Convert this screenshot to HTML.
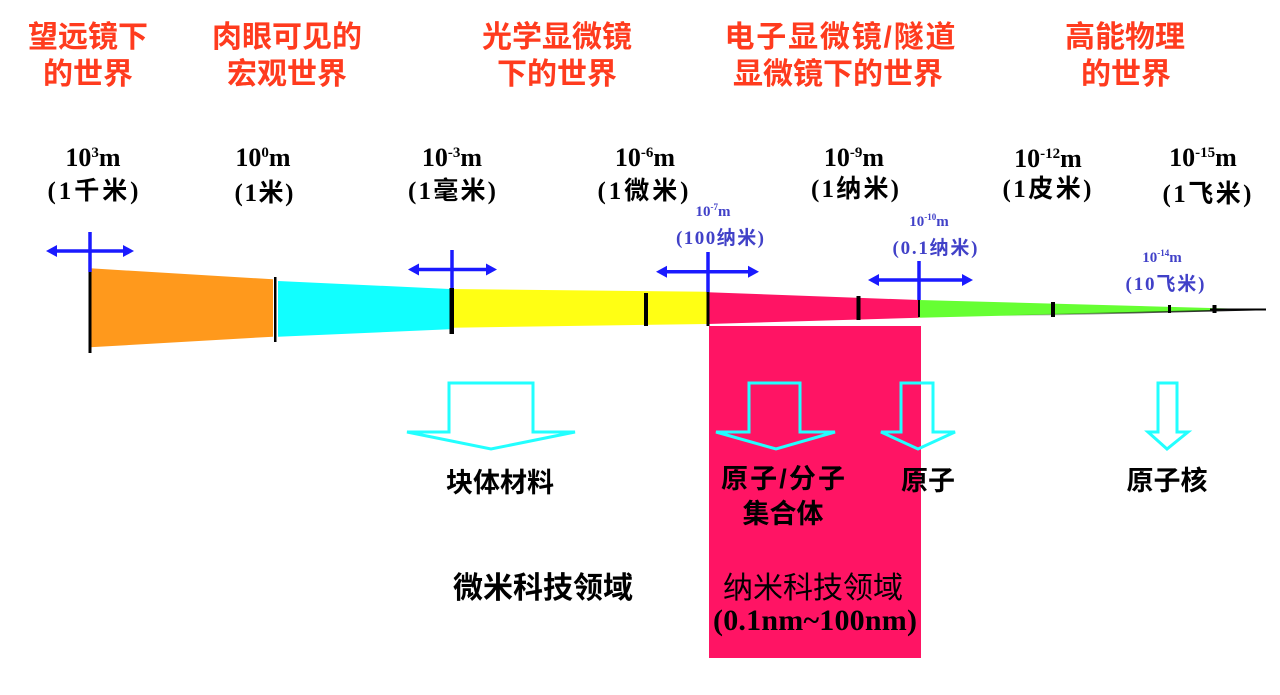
<!DOCTYPE html>
<html><head><meta charset="utf-8"><style>
html,body{margin:0;padding:0;background:#fff;}
svg{display:block;}
.r{font-family:"Liberation Sans","Noto Sans CJK SC",sans-serif;font-weight:700;font-size:30px;fill:#ff3b1e;text-anchor:middle;}
.k{font-family:"Liberation Serif","Noto Sans CJK SC",serif;font-weight:700;font-size:26px;fill:#000;text-anchor:middle;}
.k2{font-family:"Liberation Serif","Noto Sans CJK SC",serif;font-weight:700;font-size:25px;fill:#000;text-anchor:middle;}
.b{font-family:"Liberation Serif","Noto Sans CJK SC",serif;font-weight:700;font-size:19px;fill:#4141c8;text-anchor:middle;}
.bs{font-family:"Liberation Serif","Noto Sans CJK SC",serif;font-weight:700;font-size:15px;fill:#4141c8;text-anchor:middle;}
.c{font-family:"Liberation Sans","Noto Sans CJK SC",sans-serif;font-weight:700;font-size:27px;fill:#000;text-anchor:middle;}
.d{font-family:"Liberation Sans","Noto Sans CJK SC",sans-serif;font-weight:700;font-size:30px;fill:#000;text-anchor:middle;}
.dn{font-family:"Liberation Sans","Noto Sans CJK SC",sans-serif;font-weight:400;font-size:30px;fill:#000;text-anchor:middle;}
.ds{font-family:"Liberation Serif",serif;font-weight:700;font-size:30px;fill:#000;text-anchor:middle;}
.ar{fill:none;stroke:#22ffff;stroke-width:3;stroke-linejoin:miter;}
</style></head><body>
<svg width="1280" height="695" viewBox="0 0 1280 695" xmlns="http://www.w3.org/2000/svg">
<rect width="1280" height="695" fill="#fff"/>
<defs>
<linearGradient id="gl" x1="1000" y1="0" x2="1266" y2="0" gradientUnits="userSpaceOnUse">
<stop offset="0" stop-color="#000" stop-opacity="0"/>
<stop offset="0.5" stop-color="#000" stop-opacity="0.6"/>
<stop offset="1" stop-color="#000" stop-opacity="1"/>
</linearGradient>
</defs>

<!-- Red titles -->
<text class="r" x="88" y="47">望远镜下</text>
<text class="r" x="88" y="84">的世界</text>
<text class="r" x="287" y="47">肉眼可见的</text>
<text class="r" x="287" y="84">宏观世界</text>
<text class="r" x="557" y="47">光学显微镜</text>
<text class="r" x="557" y="84">下的世界</text>
<text class="r" x="840" y="47" textLength="231" lengthAdjust="spacing">电子显微镜/隧道</text>
<text class="r" x="838" y="84">显微镜下的世界</text>
<text class="r" x="1125" y="47">高能物理</text>
<text class="r" x="1126" y="84">的世界</text>

<!-- Scale labels row 1 -->
<text class="k" x="93" y="166">10<tspan font-size="15" dy="-9">3</tspan><tspan dy="9">m</tspan></text>
<text class="k" x="263" y="166">10<tspan font-size="15" dy="-9">0</tspan><tspan dy="9">m</tspan></text>
<text class="k" x="452" y="166">10<tspan font-size="15" dy="-9">-3</tspan><tspan dy="9">m</tspan></text>
<text class="k" x="645" y="166">10<tspan font-size="15" dy="-9">-6</tspan><tspan dy="9">m</tspan></text>
<text class="k" x="854" y="166">10<tspan font-size="15" dy="-9">-9</tspan><tspan dy="9">m</tspan></text>
<text class="k" x="1048" y="167">10<tspan font-size="15" dy="-9">-12</tspan><tspan dy="9">m</tspan></text>
<text class="k" x="1203" y="166">10<tspan font-size="15" dy="-9">-15</tspan><tspan dy="9">m</tspan></text>

<!-- Scale labels row 2 -->
<text class="k2" x="93" y="199" textLength="91" lengthAdjust="spacing">(1千米)</text>
<text class="k2" x="264" y="201" textLength="59" lengthAdjust="spacing">(1米)</text>
<text class="k2" x="452" y="199" textLength="88" lengthAdjust="spacing">(1毫米)</text>
<text class="k2" x="643" y="199" textLength="91" lengthAdjust="spacing">(1微米)</text>
<text class="k2" x="855" y="197" textLength="88" lengthAdjust="spacing">(1纳米)</text>
<text class="k2" x="1047" y="197" textLength="89" lengthAdjust="spacing">(1皮米)</text>
<text class="k2" x="1207" y="202" textLength="89" lengthAdjust="spacing">(1飞米)</text>

<!-- Blue small labels -->
<text class="bs" x="713" y="216">10<tspan font-size="9" dy="-6">-7</tspan><tspan dy="6">m</tspan></text>
<text class="b" x="720" y="244" textLength="88" lengthAdjust="spacing">(100纳米)</text>
<text class="bs" x="929" y="226">10<tspan font-size="9" dy="-6">-10</tspan><tspan dy="6">m</tspan></text>
<text class="b" x="935" y="254" textLength="85" lengthAdjust="spacing">(0.1纳米)</text>
<text class="bs" x="1162" y="262">10<tspan font-size="9" dy="-6">-14</tspan><tspan dy="6">m</tspan></text>
<text class="b" x="1165" y="290" textLength="79" lengthAdjust="spacing">(10飞米)</text>

<!-- Pink nano region rect -->
<rect x="709" y="326" width="212" height="332" fill="#ff1464"/>

<!-- Wedge segments -->
<polygon points="90,268.3 273,279.3 273,336.7 90,347.3" fill="#ff991c"/>
<polygon points="278,281 449.5,289 449.5,329.3 278,336.7" fill="#11ffff"/>
<polygon points="452,289 707,291.7 707,324 452,327.7" fill="#ffff14"/>
<polygon points="708,292.3 919,300 919,317.7 708,324" fill="#ff1464"/>
<polygon points="919,300 1255,309.2 1255,309.8 919,317.7" fill="#66ff33"/>
<line x1="1000" y1="315.8" x2="1266" y2="309.5" stroke="url(#gl)" stroke-width="1.6"/>
<line x1="1210" y1="309.5" x2="1266" y2="309.5" stroke="#000" stroke-width="2"/>

<!-- Black ticks -->
<rect x="88.5" y="272" width="3" height="81" fill="#000"/>
<rect x="274" y="277" width="2.5" height="65" fill="#000"/>
<rect x="449.5" y="288" width="4.5" height="46" fill="#000"/>
<rect x="644" y="293" width="4" height="33" fill="#000"/>
<rect x="706.5" y="292" width="3" height="34" fill="#000"/>
<rect x="856.5" y="296" width="4" height="24" fill="#000"/>
<rect x="918" y="300" width="2" height="17" fill="#000"/>
<rect x="1051" y="302" width="4" height="15" fill="#000"/>
<rect x="1168" y="305" width="3" height="8" fill="#000"/>
<rect x="1212.5" y="305" width="4" height="8" fill="#000"/>

<!-- Blue crosses -->
<g stroke="#1a1aff" stroke-width="3.5" fill="none">
<line x1="90" y1="232" x2="90" y2="272"/>
<line x1="54" y1="251" x2="126" y2="251"/>
<line x1="452" y1="250" x2="452" y2="288"/>
<line x1="416" y1="269.5" x2="489" y2="269.5"/>
<line x1="708" y1="252" x2="708" y2="292"/>
<line x1="664" y1="271.7" x2="751" y2="271.7"/>
<line x1="919" y1="261" x2="919" y2="300"/>
<line x1="876" y1="280" x2="965" y2="280"/>
</g>
<g fill="#1a1aff">
<polygon points="46,251 57,245 57,257"/>
<polygon points="134,251 123,245 123,257"/>
<polygon points="408,269.5 419,263.5 419,275.5"/>
<polygon points="497,269.5 486,263.5 486,275.5"/>
<polygon points="656,271.7 667,265.7 667,277.7"/>
<polygon points="759,271.7 748,265.7 748,277.7"/>
<polygon points="868,280 879,274 879,286"/>
<polygon points="973,280 962,274 962,286"/>
</g>

<!-- Cyan hollow arrows -->
<polygon class="ar" points="449,383 533,383 533,432 575,432 491,449 407,432 449,432"/>
<polygon class="ar" points="749,383 800,383 800,432 835,432 776,449 716,432 749,432"/>
<polygon class="ar" points="901,383 933,383 933,432 955,432 918,449 881,432 901,432"/>
<polygon class="ar" points="1158,383 1177,383 1177,432 1188,432 1167,449 1148,432 1158,432"/>

<!-- Bottom labels -->
<text class="c" x="500" y="492">块体材料</text>
<text class="c" x="783" y="488" textLength="124" lengthAdjust="spacing">原子/分子</text>
<text class="c" x="783" y="523">集合体</text>
<text class="c" x="928" y="490">原子</text>
<text class="c" x="1167" y="490">原子核</text>

<text class="d" x="543" y="598">微米科技领域</text>
<text class="dn" x="813" y="598">纳米科技领域</text>
<text class="ds" x="815" y="630" textLength="204" lengthAdjust="spacing">(0.1nm~100nm)</text>
</svg>
</body></html>
